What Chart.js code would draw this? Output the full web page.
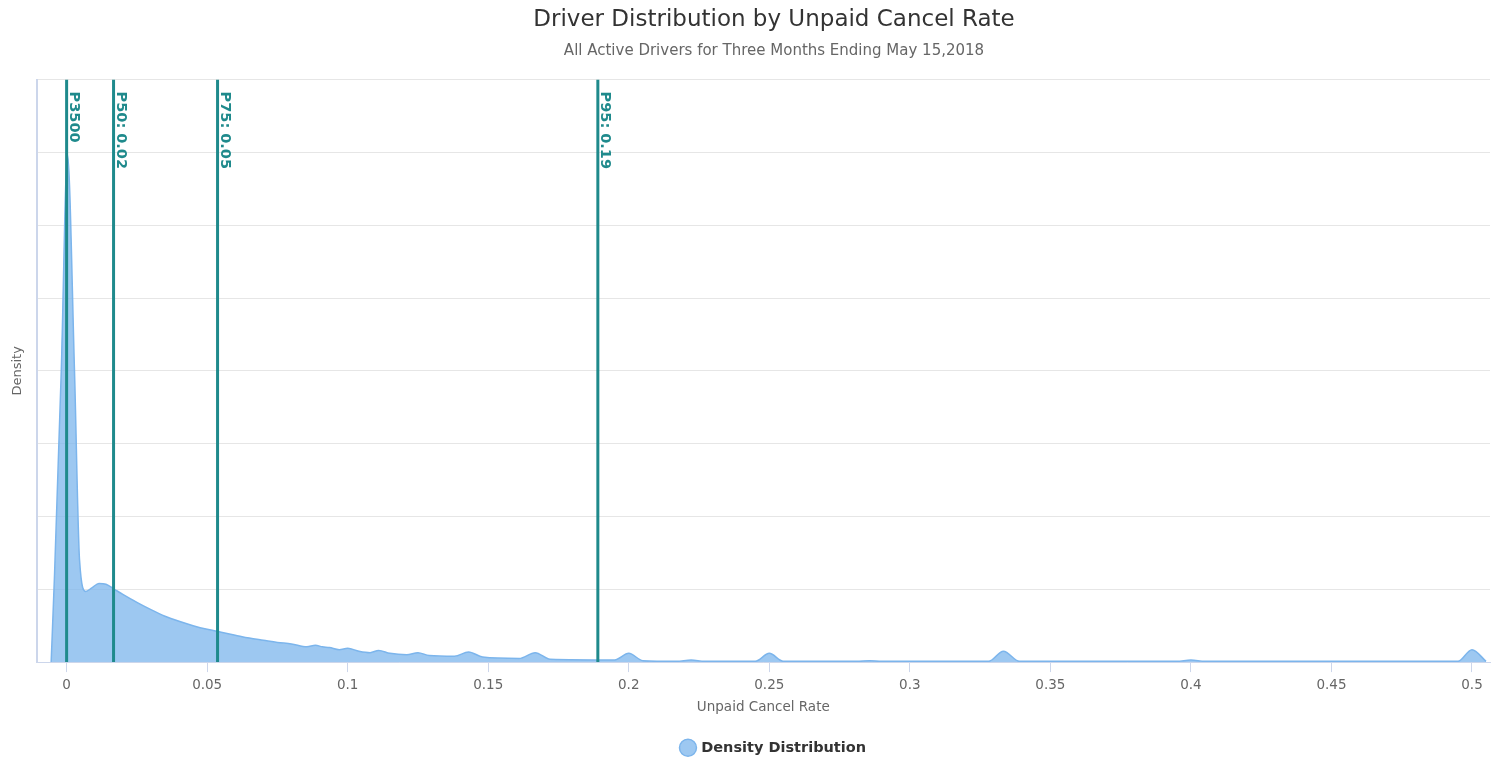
<!DOCTYPE html>
<html>
<head>
<meta charset="utf-8">
<title>Driver Distribution by Unpaid Cancel Rate</title>
<script src="https://cdn.jsdelivr.net/npm/chart.js@4.4.0/dist/chart.umd.min.js"></script>
<style>
  html, body { margin: 0; padding: 0; background: #fff; }
  #wrap { width: 1495px; height: 759px; }
</style>
</head>
<body>
<div id="wrap"><canvas id="densityChart"></canvas></div>
<script>
// unpaid cancel rate (x) and estimated density (y)
const rates = [
  -0.0055, -0.0043, -0.0019, 0.0003, 0.0028, 0.0046, 0.0068, 0.009, 0.0115, 0.014, 0.017, 0.02,
  0.025, 0.03, 0.035, 0.04, 0.045, 0.05, 0.055, 0.06, 0.065, 0.07, 0.075, 0.08,
  0.0855, 0.0885, 0.091, 0.0935, 0.097, 0.1, 0.104, 0.108, 0.111, 0.115, 0.121, 0.125,
  0.129, 0.138, 0.143, 0.148, 0.161, 0.1667, 0.172, 0.195, 0.2, 0.205, 0.217, 0.2222,
  0.227, 0.245, 0.25, 0.255, 0.281, 0.2857, 0.29, 0.328, 0.3333, 0.339, 0.395, 0.4,
  0.405, 0.495, 0.5, 0.505
];
const density = [
  0, 1.2, 4.0, 6.97, 4.0, 1.4, 0.97, 1.02, 1.08, 1.07, 1.0, 0.93,
  0.82, 0.72, 0.63, 0.56, 0.5, 0.45, 0.41, 0.37, 0.33, 0.3, 0.27, 0.25,
  0.21, 0.23, 0.21, 0.2, 0.17, 0.19, 0.15, 0.13, 0.16, 0.12, 0.1, 0.13,
  0.09, 0.08, 0.14, 0.07, 0.05, 0.13, 0.04, 0.03, 0.12, 0.02, 0.01, 0.03,
  0.01, 0.01, 0.12, 0.01, 0.01, 0.02, 0.01, 0.01, 0.15, 0.01, 0.01, 0.03,
  0.01, 0.01, 0.17, 0.01
];

// percentile markers
const pctLabels = ['P3500', 'P50: 0.02', 'P75: 0.05', 'P95: 0.19'];
const pctValues = [0, 0.0167, 0.0537, 0.189];

const xTicks = [0, 0.05, 0.1, 0.15, 0.2, 0.25, 0.3, 0.35, 0.4, 0.45, 0.5];
const yMax = 8;

const teal = '#1f8a8c';
const areaLine = '#7cb5ec';
const font = '"DejaVu Sans"';

const datasets = [{
  label: 'Density Distribution',
  data: rates.map((r, i) => ({ x: r, y: density[i] })),
  borderColor: areaLine,
  backgroundColor: 'rgba(124,181,236,0.75)',
  borderWidth: 1.5,
  fill: 'origin',
  cubicInterpolationMode: 'monotone',
  pointRadius: 0,
  order: 2
}];

pctValues.forEach((v, i) => {
  datasets.push({
    label: pctLabels[i],
    data: [{ x: v, y: 0 }, { x: v, y: yMax }],
    borderColor: teal,
    borderWidth: 3,
    pointRadius: 0,
    fill: false,
    order: 1
  });
});

// writes the percentile labels next to their lines, rotated
const markerLabels = {
  id: 'markerLabels',
  afterDatasetsDraw(chart) {
    const ctx = chart.ctx;
    const xs = chart.scales.x;
    const top = chart.chartArea.top;
    ctx.save();
    ctx.fillStyle = teal;
    ctx.font = 'bold 14.5px ' + font;
    ctx.textBaseline = 'alphabetic';
    pctValues.forEach((v, i) => {
      const px = xs.getPixelForValue(v);
      ctx.save();
      ctx.translate(px + 3, top + 12);
      ctx.rotate(Math.PI / 2);
      ctx.fillText(pctLabels[i], 0, 0);
      ctx.restore();
    });
    ctx.restore();
  }
};

// titles and legend sit a little right of the canvas centre in the original
const shiftBoxes = {
  id: 'shiftBoxes',
  afterLayout(chart) {
    chart.boxes.forEach(b => {
      const isTitle = b.options && typeof b.options.text === 'string' && b.position === 'top';
      if (isTitle || b === chart.legend) {
        b.left += 48;
      }
    });
  }
};

new Chart(document.getElementById('densityChart'), {
  type: 'line',
  data: { datasets: datasets },
  plugins: [markerLabels, shiftBoxes],
  options: {
    responsive: true,
    maintainAspectRatio: false,
    animation: false,
    layout: { padding: { left: 10, right: 5, top: 0, bottom: -6 } },
    plugins: {
      title: {
        display: true,
        text: 'Driver Distribution by Unpaid Cancel Rate',
        color: '#333',
        font: { family: font, size: 23, weight: 'normal' },
        padding: { top: 6, bottom: 5 }
      },
      subtitle: {
        display: true,
        text: 'All Active Drivers for Three Months Ending May 15,2018',
        color: '#666',
        font: { family: font, size: 15 },
        padding: { top: 4, bottom: 19 }
      },
      legend: {
        position: 'bottom',
        labels: {
          usePointStyle: true,
          pointStyle: 'circle',
          boxWidth: 12,
          boxHeight: 12,
          padding: 4,
          color: '#333',
          font: { family: font, size: 14.5, weight: 'bold' },
          filter: item => item.text === 'Density Distribution'
        }
      },
      tooltip: { enabled: false }
    },
    scales: {
      x: {
        type: 'linear',
        min: -0.01068,
        max: 0.50641,
        afterBuildTicks: axis => { axis.ticks = xTicks.map(v => ({ value: v })); },
        ticks: {
          color: '#666',
          font: { family: font, size: 13.5 },
          padding: 5,
          callback: v => String(Math.round(v * 100) / 100)
        },
        grid: { drawOnChartArea: false, drawTicks: true, tickLength: 10, color: '#ccd6eb' },
        border: { color: '#ccd6eb', width: 1 },
        title: {
          display: true,
          text: 'Unpaid Cancel Rate',
          color: '#666',
          font: { family: font, size: 13.5 },
          padding: { top: 1, bottom: 21 }
        }
      },
      y: {
        min: 0,
        max: yMax,
        ticks: { display: false, stepSize: 1 },
        grid: { color: '#e6e6e6', drawTicks: false },
        border: { color: '#ccd6eb', width: 2 },
        title: {
          display: true,
          text: 'Density',
          color: '#666',
          font: { family: font, size: 13 },
          padding: { top: 0, bottom: 11 }
        }
      }
    }
  }
});
</script>
</body>
</html>
